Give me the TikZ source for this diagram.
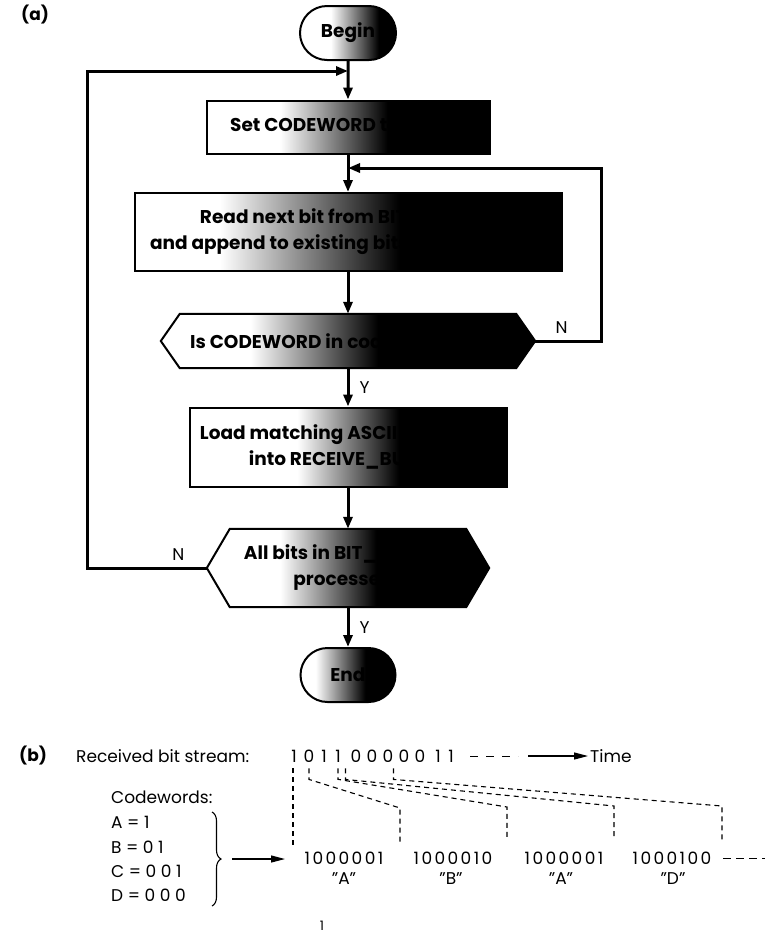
\documentclass[tikz,border=0pt]{standalone}
\usepackage{fontspec}
\setmainfont{Poppins}
\newfontfamily\spacedfont[LetterSpace=14]{Poppins}
\usetikzlibrary{arrows.meta,shapes.misc,backgrounds,decorations.pathreplacing,calc}

% white-to-black horizontal fades; the shape spans 25bp..75bp of the shading
\newcommand\declarefade[3]{%
  \pgfdeclarehorizontalshading{#1}{100bp}{color(0bp)=(white); color(#2bp)=(white); color(#3bp)=(black); color(100bp)=(black)}}
\declarefade{fadebegin}{41}{66}
\declarefade{fadeset}{38}{57}
\declarefade{faderead}{35}{56}
\declarefade{fadetest}{37}{54}
\declarefade{fadeload}{42}{58}
\declarefade{fadeall}{38}{55}
\declarefade{fadeend}{33}{59}

\tikzset{
  flowtext/.style={font=\bfseries\fontsize{18.5}{26}\selectfont, align=center, inner sep=0pt},
  procbox/.style={flowtext, draw, line width=2pt, rectangle},
  termbox/.style={flowtext, draw, line width=2pt, rounded rectangle},
  testbox/.style={flowtext},
  hexshape/.style={draw, line width=2pt, line join=miter},
  link/.style={line width=3pt, -{Triangle[length=12pt,width=9pt]}},
  yn/.style={font=\fontsize{17}{20}\selectfont, inner sep=1pt},
  plain/.style={font=\fontsize{17}{20}\selectfont, inner sep=0pt},
  codeword/.style={font=\spacedfont\fontsize{17}{20}\selectfont, inner sep=0pt},
  partlabel/.style={font=\bfseries\fontsize{17}{20}\selectfont, inner sep=0pt},
  guide/.style={line width=1.1pt, dash pattern=on 5pt off 4pt},
  thinarrow/.style={line width=1.2pt, -{Triangle[length=14pt,width=7pt]}},
}

\begin{document}
\begin{tikzpicture}[x=1pt, y=-1pt]
\useasboundingbox (0,0) rectangle (765,938);
\begin{scope}[on background layer]
  \fill[white] (0,0) rectangle (765,938);
\end{scope}

% ---------------- (a) decoding flowchart ----------------
\node[partlabel, anchor=west] (pa) at (21,15) {(a)};

\node[termbox, shading=fadebegin, minimum width=96pt, minimum height=54pt] (begin) at (348,33) {Begin};
\node[procbox, shading=fadeset, minimum width=283pt, minimum height=53pt] (set) at (348,127) {Set CODEWORD to empty};
\node[procbox, shading=faderead, minimum width=427pt, minimum height=78pt] (read) at (348,232)
  {Read next bit from BIT\_STREAM\\and append to existing bits in CODEWORD};
\node[testbox, minimum width=374pt, minimum height=54pt] (test) at (348,341) {Is CODEWORD in codeword table?};
\node[procbox, shading=fadeload, minimum width=317pt, minimum height=79pt] (load) at (348,447)
  {Load matching ASCII character\\into RECEIVE\_BUFFER};
\node[testbox, minimum width=282pt, minimum height=78pt] (done) at (348,568) {All bits in BIT\_STREAM\\processed?};
\node[termbox, shading=fadeend, minimum width=95pt, minimum height=54pt] (end) at (348,675) {End};

% hexagonal decision outlines, drawn behind their text
\begin{scope}[on background layer]
  \path[hexshape, shading=fadetest] (test.west) -- ($(test.north west)+(19,0)$) -- ($(test.north east)+(-19,0)$)
    -- (test.east) -- ($(test.south east)+(-19,0)$) -- ($(test.south west)+(19,0)$) -- cycle;
  \path[hexshape, shading=fadeall] (done.west) -- ($(done.north west)+(23,0)$) -- ($(done.north east)+(-23,0)$)
    -- (done.east) -- ($(done.south east)+(-23,0)$) -- ($(done.south west)+(23,0)$) -- cycle;
\end{scope}

\coordinate (jtop) at (348,71);
\coordinate (jmid) at (348,168);

\draw[link] (begin) -- (set);
\draw[link] (set) -- (read);
\draw[link] (read) -- (test);
\draw[link] (test) -- node[yn, right=9pt] {Y} (load);
\draw[link] (load) -- (done);
\draw[link] (done) -- node[yn, right=9pt] {Y} (end);
\draw[link] (test.east) -- node[yn, above=5pt, pos=0.4] {N} ++(66,0) |- (jmid);
\draw[link] (done.west) -- node[yn, above=5pt, pos=0.24] {N} ++(-119,0) |- (jtop);

% ---------------- (b) worked example ----------------
\node[partlabel, anchor=west] (pb) at (19,756) {(b)};
\node[plain, anchor=west] (rx) at (76,756) {Received bit stream:};

\foreach \v/\x [count=\i] in {1/294,0/309,1/324,1/338,0/356,0/372,0/388,0/404,0/420,1/438,1/451}
  \node[plain] (b\i) at (\x,756) {\v};

\node[plain, anchor=west] (time) at (590,756) {Time};
\coordinate (tdash) at (470,756);
\coordinate (tgo) at (528,756);
\draw[line width=1pt, dash pattern=on 8pt off 8pt] (tdash) -- ++(48,0);
\draw[thinarrow] (tgo) -- ($(time.west)+(-2,0)$);

\node[plain, anchor=west] (cw) at (111,797) {Codewords:};
\node[plain, anchor=west] (ka) at (111,822) {A = 1};
\node[plain, anchor=west] (kb) at (111,847) {B = 0 1};
\node[plain, anchor=west] (kc) at (111,871) {C = 0 0 1};
\node[plain, anchor=west] (kd) at (111,895) {D = 0 0 0};
\draw[line width=1.1pt, decorate, decoration={brace, amplitude=9pt}] (212,812) -- (212,906);
\coordinate (bracetip) at (232,859);
\coordinate (codein) at (285,859);
\draw[thinarrow] (bracetip) -- (codein);

\node[codeword] (c1) at (344,858) {1000001};
\node[codeword] (c2) at (453,858) {1000010};
\node[codeword] (c3) at (564,858) {1000001};
\node[codeword] (c4) at (672,858) {1000100};
\node[plain] (q1) at (344,879) {"A"};
\node[plain] (q2) at (451,879) {"B"};
\node[plain] (q3) at (561,879) {"A"};
\node[plain] (q4) at (673,879) {"D"};
\coordinate (tail) at (765,858);
\draw[line width=1pt, dash pattern=on 8pt off 5pt] (723,858) -- (tail);

% dashed guides from the start of each codeword in the stream to the decoded characters
\draw[guide] (b1.south) ++(-1,6) -- (293,846);
\draw[guide] (b2.south) ++(0,6) -- ++(0,11) -- (400,808) -- (400,842);
\draw[guide] (b4.south) ++(0,6) -- ++(0,11) -- (507,807) -- (507,840);
\draw[guide] (b5.south west) ++(-5,6) -- ++(0,11) -- (614,806) -- (614,838);
\draw[guide] (b8.south west) ++(-5,6) -- ++(0,11) -- (722,806) -- (722,840);

\node[font=\fontsize{13}{15}\selectfont, inner sep=0pt] (mark) at (322,926) {1};
\end{tikzpicture}
\end{document}
